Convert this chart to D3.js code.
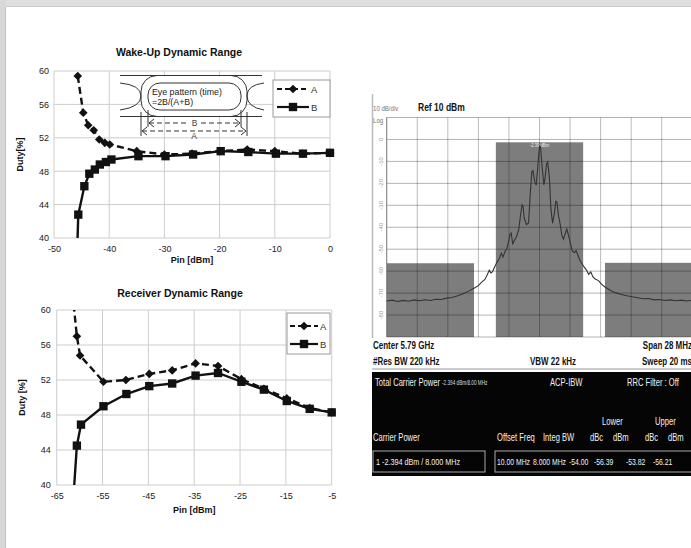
<!DOCTYPE html>
<html>
<head>
<meta charset="utf-8">
<script src="https://cdn.jsdelivr.net/npm/d3@7/dist/d3.min.js"></script>
<style>
  body { margin: 0; background: #fff; }
  svg { display: block; }
  .chart-text { font-family: "Liberation Sans", Arial, sans-serif; fill: #111; }
  .sa-text { font-family: "Liberation Sans", Arial, sans-serif; }
</style>
</head>
<body>
<svg id="chart" width="691" height="548"></svg>
<script>
// Wake-up dynamic range: [Pin dBm, duty %]
const wakeUpA = [[-45.7, 59.4], [-44.7, 55.0], [-43.8, 53.5], [-42.8, 52.9], [-41.8, 51.8], [-40.8, 51.4], [-39.9, 51.2],
  [-35, 50.4], [-30, 50.0], [-25, 50.1], [-20, 50.4], [-15, 50.6], [-10, 50.4], [-5, 50.1], [0, 50.2]];
const wakeUpB = [[-45.8, 38.5], [-45.6, 42.8], [-44.5, 46.2], [-43.6, 47.7], [-42.6, 48.2], [-41.7, 48.8], [-40.6, 49.1], [-39.6, 49.4],
  [-34.7, 49.8], [-29.8, 49.8], [-24.8, 50.0], [-19.8, 50.4], [-14.8, 50.3], [-9.8, 50.1], [-4.9, 50.1], [0, 50.2]];

// Receiver dynamic range
const receiverA = [[-61.3, 60.6], [-60.6, 57.0], [-59.9, 54.8], [-54.8, 51.8], [-49.9, 52.0], [-44.8, 52.7], [-39.8, 53.1],
  [-34.7, 53.9], [-29.8, 53.6], [-24.7, 52.1], [-19.8, 51.0], [-14.8, 49.9], [-9.8, 48.8], [-5, 48.3]];
const receiverB = [[-61.3, 39.0], [-60.6, 44.5], [-59.7, 46.9], [-54.8, 49.0], [-49.8, 50.4], [-44.8, 51.3], [-39.8, 51.6],
  [-34.7, 52.5], [-29.8, 52.8], [-24.7, 51.8], [-19.8, 50.9], [-14.8, 49.6], [-9.8, 48.7], [-5, 48.3]];

const dutyTicks = [40, 44, 48, 52, 56, 60];
const wakeUpTicks = [-50, -40, -30, -20, -10, 0];
const receiverTicks = [-65, -55, -45, -35, -25, -15, -5];

// Spectrum analyser: offset from 5.79 GHz centre [MHz, dBm]
const spectrumTrace = [[-14, -73.6], [-13.5, -73.2], [-13, -73.8], [-12.5, -73.3], [-12, -73.7], [-11.5, -73.1], [-11, -73.5],
  [-10.5, -73.0], [-10, -73.4], [-9.5, -72.8], [-9, -72.9], [-8.5, -72.3], [-8, -72.0], [-7.5, -71.2], [-7, -70.3],
  [-6.5, -69.1], [-6, -67.8], [-5.6, -66.6], [-5.3, -65.0], [-5.0, -63.8], [-4.8, -61.8], [-4.6, -59.6], [-4.45, -60.8],
  [-4.3, -60.2], [-4.1, -58.0], [-3.9, -56.0], [-3.7, -54.5], [-3.5, -51.8], [-3.35, -53.6], [-3.15, -51.0], [-3.0, -49.8],
  [-2.85, -46.8], [-2.7, -43.2], [-2.6, -42.6], [-2.45, -47.5], [-2.3, -46.0], [-2.1, -44.2], [-1.9, -41.0], [-1.75, -35],
  [-1.6, -29.8], [-1.5, -30.5], [-1.4, -35.8], [-1.2, -38.8], [-1.0, -38.0], [-0.85, -25], [-0.7, -14.6], [-0.6, -14.2],
  [-0.45, -19], [-0.3, -20.8], [-0.15, -12], [0.0, -3.0], [0.1, -3.4], [0.25, -13], [0.4, -20.6], [0.5, -18], [0.65, -11],
  [0.75, -10.2], [0.9, -17], [1.05, -32], [1.2, -38.2], [1.35, -34], [1.5, -28.2], [1.6, -28.6], [1.75, -35], [1.9, -38.8],
  [2.05, -43.8], [2.2, -45.4], [2.35, -43.0], [2.5, -40.8], [2.65, -43.6], [2.8, -46.5], [3.0, -50.8], [3.2, -51.6],
  [3.35, -50.6], [3.5, -52.4], [3.7, -55.0], [3.9, -56.6], [4.1, -58.2], [4.3, -59.5], [4.5, -61.4], [4.7, -60.4],
  [4.9, -62.6], [5.1, -63.6], [5.4, -64.3], [5.7, -66.0], [6.0, -67.2], [6.5, -68.8], [7, -69.9], [7.5, -70.6], [8, -71.2],
  [8.5, -71.7], [9, -72.1], [9.5, -72.6], [10, -72.5], [10.5, -73.1], [11, -72.9], [11.5, -73.4], [12, -73.1], [12.5, -73.5],
  [13, -73.2], [13.5, -73.6], [14, -73.3]];
// integration bands: [from MHz, to MHz, level dBm]
const spectrumBands = [[-14, -6, -56.4], [-4, 4, -1.3], [6, 14, -56.2]];
const spectrumLevelLabels = [0, -10, -20, -30, -40, -50, -60, -70, -80];
const spectrumFreqGrid = [-14, -11.2, -8.4, -5.6, -2.8, 0, 2.8, 5.6, 8.4, 11.2, 14];
const spectrumLevelGrid = [10, 0, -10, -20, -30, -40, -50, -60, -70, -80, -90];

// ACP table texts
const acpHeader = ['Carrier Power', 'Offset Freq', 'Integ BW', 'dBc', 'dBm', 'dBc', 'dBm'];
const acpValues = ['10.00 MHz', '8.000 MHz', '-54.00', '-56.39', '-53.82', '-56.21'];

const svg = d3.select('#chart');

// page frame
svg.append('rect').attr('x', 0).attr('y', 0).attr('width', 691).attr('height', 7).attr('fill', '#dedede');
svg.append('line').attr('x1', 0).attr('x2', 691).attr('y1', 6.5).attr('y2', 6.5).attr('stroke', '#c9c9c9');
svg.append('rect').attr('x', 0).attr('y', 0).attr('width', 6).attr('height', 548).attr('fill', '#d8d8d8');
svg.append('line').attr('x1', 5.5).attr('x2', 5.5).attr('y1', 7).attr('y2', 548).attr('stroke', '#c4c4c4');

// Duty cycle chart (Excel style)
function drawDutyChart(cfg) {
    const g = svg.append('g').attr('class', 'chart-text');
    const x = d3.scaleLinear().domain(cfg.xDomain).range([cfg.left, cfg.right]);
    const y = d3.scaleLinear().domain([40, 60]).range([cfg.bottom, cfg.top]);

    // gridlines
    g.append('g').selectAll('line').data(cfg.xTicks).join('line')
        .attr('x1', d => x(d)).attr('x2', d => x(d))
        .attr('y1', cfg.top).attr('y2', cfg.bottom)
        .attr('stroke', '#cdcdcd');
    g.append('g').selectAll('line').data(dutyTicks).join('line')
        .attr('x1', cfg.left).attr('x2', cfg.right)
        .attr('y1', d => y(d)).attr('y2', d => y(d))
        .attr('stroke', '#cdcdcd');

    // axes (labels only)
    g.append('g')
        .attr('transform', `translate(0,${cfg.bottom})`)
        .call(d3.axisBottom(x).tickValues(cfg.xTicks).tickSize(0).tickPadding(cfg.xPad).tickFormat(d => String(d)))
        .call(a => a.select('.domain').remove())
        .selectAll('text').attr('font-size', 9).attr('fill', '#222')
        .attr('font-family', '"Liberation Sans", Arial, sans-serif');
    g.append('g')
        .attr('transform', `translate(${cfg.left},0)`)
        .call(d3.axisLeft(y).tickValues(dutyTicks).tickSize(0).tickPadding(cfg.yPad).tickFormat(d => String(d)))
        .call(a => a.select('.domain').remove())
        .selectAll('text').attr('font-size', 9).attr('fill', '#222')
        .attr('font-family', '"Liberation Sans", Arial, sans-serif');

    // titles
    g.append('text').attr('x', cfg.titleX).attr('y', cfg.titleY)
        .attr('text-anchor', 'middle').attr('font-size', 10.5).attr('font-weight', 'bold')
        .text(cfg.title);
    g.append('text').attr('x', (cfg.left + cfg.right) / 2).attr('y', cfg.bottom + cfg.xTitleGap)
        .attr('text-anchor', 'middle').attr('font-size', 9).attr('font-weight', 'bold')
        .text('Pin [dBm]');
    g.append('text')
        .attr('transform', `translate(${cfg.yTitleX},${(cfg.top + cfg.bottom) / 2}) rotate(-90)`)
        .attr('text-anchor', 'middle').attr('font-size', 9).attr('font-weight', 'bold')
        .text(cfg.yTitle);

    if (cfg.extra) cfg.extra(g);

    // series
    const clipId = 'clip-' + cfg.id;
    svg.append('clipPath').attr('id', clipId).append('rect')
        .attr('x', cfg.left).attr('y', cfg.top)
        .attr('width', cfg.right - cfg.left).attr('height', cfg.bottom - cfg.top);

    const line = d3.line().x(d => x(d[0])).y(d => y(d[1]));
    const inside = d => d[1] >= 40 && d[1] <= 60;

    g.append('path').datum(cfg.seriesA).attr('d', line)
        .attr('clip-path', `url(#${clipId})`)
        .attr('fill', 'none').attr('stroke', '#111').attr('stroke-width', 2.4).attr('stroke-dasharray', '7,4');
    g.append('path').datum(cfg.seriesB).attr('d', line)
        .attr('clip-path', `url(#${clipId})`)
        .attr('fill', 'none').attr('stroke', '#111').attr('stroke-width', 2.4);

    const diamond = d3.symbol().type(d3.symbolDiamond2).size(48);
    const square = d3.symbol().type(d3.symbolSquare).size(70);
    g.append('g').selectAll('path').data(cfg.seriesA.filter(inside)).join('path')
        .attr('d', diamond).attr('transform', d => `translate(${x(d[0])},${y(d[1])})`).attr('fill', '#111');
    g.append('g').selectAll('path').data(cfg.seriesB.filter(inside)).join('path')
        .attr('d', square).attr('transform', d => `translate(${x(d[0])},${y(d[1])})`).attr('fill', '#111');

    // legend
    const lg = g.append('g').attr('transform', `translate(${cfg.legend.x},${cfg.legend.y})`);
    lg.append('rect').attr('width', cfg.legend.w).attr('height', cfg.legend.h)
        .attr('fill', '#fff').attr('stroke', '#9a9a9a');
    [['A', true, diamond], ['B', false, square]].forEach(([name, dashed, sym], i) => {
        const ry = cfg.legend.rows[i];
        lg.append('line').attr('x1', cfg.legend.lx1).attr('x2', cfg.legend.lx2).attr('y1', ry).attr('y2', ry)
            .attr('stroke', '#111').attr('stroke-width', 2.2).attr('stroke-dasharray', dashed ? '5,3' : null);
        lg.append('path').attr('d', sym).attr('transform', `translate(${(cfg.legend.lx1 + cfg.legend.lx2) / 2},${ry})`)
            .attr('fill', '#111');
        lg.append('text').attr('x', cfg.legend.lx2 + 2).attr('y', ry + 3.5).attr('font-size', 9.5).attr('fill', '#333')
            .text(name);
    });
}

// eye pattern sketch inside the wake-up chart
function drawEye(g) {
    const e = g.append('g').attr('fill', 'none').attr('stroke', '#333').attr('stroke-width', 1);
    e.append('rect').attr('x', 141).attr('y', 75.5).attr('width', 106).attr('height', 41).attr('rx', 16)
        .attr('fill', '#fff');
    e.append('path').attr('d', 'M120,75.5H262M120,116.5H262');
    e.append('path').attr('d', 'M120,83Q141,85 141,96Q141,107 120,110');
    e.append('path').attr('d', 'M264,83Q247,85 247,96Q247,107 264,110');
    e.append('rect').attr('x', 148).attr('y', 83).attr('width', 93).attr('height', 27).attr('rx', 12)
        .attr('fill', '#fff');
    // dimension lines
    e.append('path').attr('d', 'M141,112V136M247,112V136M148,110V127M241,110V127');
    e.append('path').attr('stroke-dasharray', '5,3').attr('d', 'M149,123H188M201,123H240M142,131H246');
    e.append('path').attr('d', 'M154,119L149,123L154,127M235,119L240,123L235,127M147,127L142,131L147,135M241,127L246,131L241,135');
    g.append('text').attr('x', 194.5).attr('y', 126).attr('text-anchor', 'middle').attr('font-size', 8.5).attr('fill', '#444').text('B');
    g.append('text').attr('x', 194).attr('y', 139).attr('text-anchor', 'middle').attr('font-size', 8.5).attr('fill', '#444').text('A');
    g.append('text').attr('x', 152).attr('y', 95).attr('font-size', 8.8).attr('fill', '#222').text('Eye pattern (time)');
    g.append('text').attr('x', 152).attr('y', 105).attr('font-size', 8.8).attr('fill', '#222').text('=2B/(A+B)');
}

drawDutyChart({
    id: 'wake', title: 'Wake-Up Dynamic Range', titleX: 179, titleY: 56,
    left: 54, right: 330, top: 71, bottom: 238,
    xDomain: [-50, 0], xTicks: wakeUpTicks, xPad: 8, yPad: 5, xTitleGap: 25,
    yTitle: 'Duty[%]', yTitleX: 23,
    seriesA: wakeUpA, seriesB: wakeUpB,
    legend: { x: 273, y: 80, w: 57, h: 37, rows: [9, 27], lx1: 4, lx2: 36 },
    extra: drawEye
});

drawDutyChart({
    id: 'recv', title: 'Receiver Dynamic Range', titleX: 180, titleY: 297,
    left: 56.7, right: 331.7, top: 310, bottom: 485,
    xDomain: [-65, -5], xTicks: receiverTicks, xPad: 8, yPad: 6, xTitleGap: 28,
    yTitle: 'Duty [%]', yTitleX: 25,
    seriesA: receiverA, seriesB: receiverB,
    legend: { x: 287, y: 313, w: 43, h: 41, rows: [13, 31], lx1: 3, lx2: 31 }
});

// Spectrum analyser screenshot
function drawSpectrum() {
    const g = svg.append('g').attr('class', 'sa-text');
    const x = d3.scaleLinear().domain([-14, 14]).range([386.7, 692.3]);
    const y = d3.scaleLinear().domain([-90, 10]).range([337, 117.5]);

    // condensed text: no narrow font installed, so squeeze horizontally
    const narrow = (tx, ty, s, size, opts) => {
        const o = opts || {};
        return g.append('text')
            .attr('transform', `translate(${tx},${ty}) scale(${o.sx || 0.76},1)`)
            .attr('text-anchor', o.anchor || 'start')
            .attr('font-size', size).attr('font-weight', o.bold ? 'bold' : null)
            .attr('fill', o.fill || '#111').text(s);
    };

    g.append('line').attr('x1', 372.5).attr('x2', 372.5).attr('y1', 94).attr('y2', 338)
        .attr('stroke', '#bbb').attr('stroke-width', 1.5);

    narrow(373, 111, '10 dB/div', 8, { fill: '#777' });
    narrow(418, 111, 'Ref  10 dBm', 11.5, { bold: true, sx: 0.74 });
    narrow(373, 123, 'Log', 8, { fill: '#777' });

    g.append('rect').attr('x', x(-14)).attr('y', y(10)).attr('width', x(14) - x(-14)).attr('height', y(-90) - y(10))
        .attr('fill', '#fff');

    g.append('g').selectAll('rect').data(spectrumBands).join('rect')
        .attr('x', d => x(d[0])).attr('width', d => x(d[1]) - x(d[0]))
        .attr('y', d => y(d[2])).attr('height', d => y(-90) - y(d[2]))
        .attr('fill', '#7d7d7d');

    // graticule
    g.append('g').selectAll('line').data(spectrumFreqGrid).join('line')
        .attr('x1', d => x(d)).attr('x2', d => x(d)).attr('y1', y(10)).attr('y2', y(-90))
        .attr('stroke', '#000').attr('stroke-opacity', 0.27);
    g.append('g').selectAll('line').data(spectrumLevelGrid).join('line')
        .attr('x1', x(-14)).attr('x2', x(14)).attr('y1', d => y(d)).attr('y2', d => y(d))
        .attr('stroke', '#000').attr('stroke-opacity', 0.3);
    g.append('line').attr('x1', x(-14)).attr('x2', x(-14)).attr('y1', y(10)).attr('y2', y(-90))
        .attr('stroke', '#888');

    g.append('g').selectAll('text').data(spectrumLevelLabels).join('text')
        .attr('transform', d => `translate(${x(-14) - 4},${y(d)}) rotate(-90)`)
        .attr('text-anchor', 'middle').attr('font-size', 6).attr('fill', '#a0a0a0')
        .text(d => String(d));

    // channel power marker label
    narrow(x(0), y(-3.5), '-2.39 dBm', 5.5, { anchor: 'middle', fill: '#eee' });

    g.append('path').datum(spectrumTrace)
        .attr('d', d3.line().x(d => x(d[0])).y(d => y(d[1])))
        .attr('fill', 'none').attr('stroke', '#333').attr('stroke-width', 1.1);

    // settings below the graticule
    narrow(373, 349, 'Center  5.79 GHz', 10.5, { bold: true });
    narrow(692, 349, 'Span 28 MHz', 10.5, { bold: true, anchor: 'end' });
    narrow(373, 365, '#Res BW  220 kHz', 10.5, { bold: true });
    narrow(530, 365, 'VBW  22 kHz', 10.5, { bold: true });
    narrow(692, 365, 'Sweep  20 ms', 10.5, { bold: true, anchor: 'end' });

    // ACP results panel
    g.append('line').attr('x1', 372).attr('x2', 691).attr('y1', 369).attr('y2', 369).attr('stroke', '#ccc').attr('stroke-width', 2);
    g.append('rect').attr('x', 372).attr('y', 372).attr('width', 330).attr('height', 104).attr('fill', '#050505');

    const white = (tx, ty, s, size) => narrow(tx, ty, s, size || 10, { fill: '#f2f2f2' });
    white(375, 386, 'Total Carrier Power');
    narrow(442, 385, '-2.394 dBm/8.00 MHz', 6.5, { fill: '#ddd', sx: 0.72 });
    white(550, 386, 'ACP-IBW');
    white(627, 386, 'RRC Filter : Off');
    white(602, 425, 'Lower');
    white(655, 425, 'Upper');

    const headerX = [373, 497, 543, 590, 613, 645, 668];
    acpHeader.forEach((s, i) => white(headerX[i], 441, s));

    g.append('rect').attr('x', 373).attr('y', 451).attr('width', 112).attr('height', 21)
        .attr('fill', 'none').attr('stroke', '#aaa');
    g.append('rect').attr('x', 495).attr('y', 451).attr('width', 200).attr('height', 21)
        .attr('fill', 'none').attr('stroke', '#aaa');
    white(376, 465, '1   -2.394 dBm /  8.000 MHz', 9.5);
    const valueX = [497, 533, 569, 594, 626, 653];
    acpValues.forEach((s, i) => white(valueX[i], 465, s, 9));
}

drawSpectrum();
</script>
</body>
</html>
